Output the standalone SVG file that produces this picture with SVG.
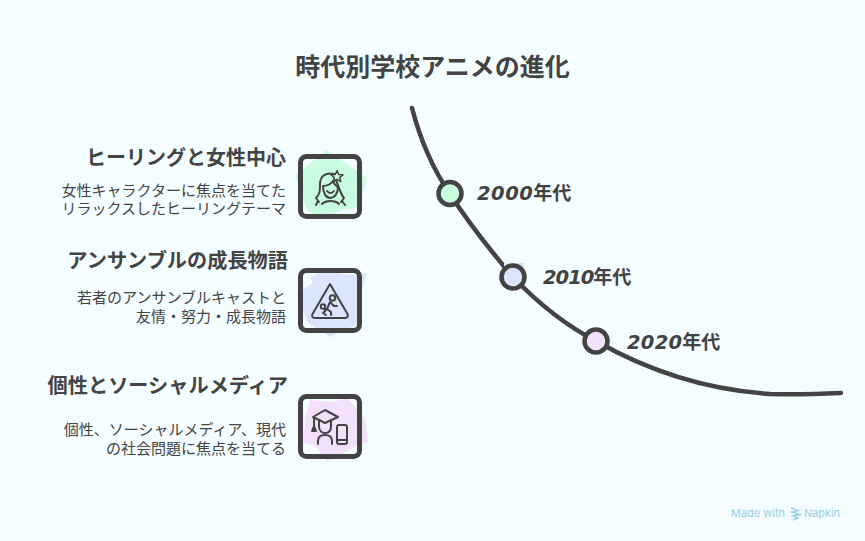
<svg xmlns="http://www.w3.org/2000/svg" width="865" height="541" viewBox="0 0 865 541">
<style>
text{font-family:"Noto Sans CJK JP","Noto Sans",sans-serif;fill:#434343}
.t{font-size:25px;font-weight:700}
.h{font-size:20.200px;font-weight:700;text-anchor:end}
.d{font-size:15px;text-anchor:end}
.y{font-size:19px;font-weight:700}
.yl{font-family:"DejaVu Sans","Noto Sans CJK JP",sans-serif;font-style:italic;font-weight:700;font-size:19.500px}
.box{fill:none;stroke:#434343;stroke-width:5}
.ic{fill:none;stroke:#434343;stroke-width:2;stroke-linecap:round;stroke-linejoin:round}
.line{fill:none;stroke:#434343;stroke-width:4.500;stroke-linecap:round}
.dot{stroke:#434343;stroke-width:4.500}
.wm{font-family:Inter,"Noto Sans",sans-serif;fill:#9bcfe2;font-size:11px;font-weight:400}
</style>
<rect width="865" height="541" fill="#f4fdff"/>
<text class="t" x="432.500" y="76" text-anchor="middle">時代別学校アニメの進化</text>
<g id="connectors">
<path class="line" d="M412 108C423 150 437 175 450 194C470 225 490 250 513 277C535 300 565 325 596 341C650 372 710 390 770 394C795 395 820 394 841 393"/>
</g>
<g id="node-2000">
<rect x="441" y="184" width="18" height="19" fill="#c6fde0"/>
<circle class="dot" cx="450" cy="193.500" r="11.500" fill="#c9fbdf"/>
<text class="y" x="477" y="200"><tspan class="yl" letter-spacing=".5">2000</tspan>年代</text>
</g>
<g id="node-2010">
<rect x="504" y="263" width="20" height="22" fill="#dbe6fd"/>
<circle class="dot" cx="513" cy="277" r="11.500" fill="#dbe6fd"/>
<text class="y" x="543" y="284"><tspan class="yl" letter-spacing="-1">2010</tspan>年代</text>
</g>
<g id="node-2020">
<circle class="dot" cx="596" cy="341" r="11.500" fill="#f3e1fb"/>
<text class="y" x="627" y="349"><tspan class="yl" letter-spacing=".25">2020</tspan>年代</text>
</g>
<g id="item-healing">
<text class="h" x="286" y="165" style="font-size:20px">ヒーリングと女性中心</text>
<text class="d" x="286" y="196">女性キャラクターに焦点を当てた</text>
<text class="d" x="286" y="214">リラックスしたヒーリングテーマ</text>
<polygon points="327,150 367,178 359,208 340,210 323,220 307,210 295,175" fill="#c8fbe0"/>
<rect class="box" x="300.500" y="156.500" width="59" height="60" rx="6"/>
<g class="ic">
<path d="M334 174C326 172 320 176 320 184C320 191 320 194 316 198L319 202M336 180C339 187 340 193 344 198L341 202"/>
<path d="M323 186C327 186 331 184 333 181C334 184 336 186 338 187C338 194 334 198 330.500 198C326 198 323 193 323 186Z"/>
<path d="M327 191C329 193.500 332 193.500 334 191M322 204C326 200 335 200 339 204M318 201L316 205M342 201L345 205"/>
<path d="M337 170.500L338.700 174.500L343 174.800L339.700 177.500L340.800 181.500L337 179.300L333.300 181.500L334.300 177.500L331 174.800L335.300 174.500Z" stroke-width="1.500"/>
</g>
</g>
<g id="item-ensemble">
<text class="h" x="288" y="268">アンサンブルの成長物語</text>
<text class="d" x="286" y="303">若者のアンサンブルキャストと</text>
<text class="d" x="286" y="322">友情・努力・成長物語</text>
<polygon points="310,277 327,270 348,275 367,273 358,303 360,323 330,337 308,323 297,293 313,283" fill="#dbe6fd"/>
<rect class="box" x="300.500" y="270.500" width="59" height="60" rx="6"/>
<g class="ic">
<path d="M330 284L347.500 314C348.500 316 347.500 318 345 318H315C312.500 318 311.500 316 312.500 314Z"/>
<circle cx="332.500" cy="298" r="2.800"/>
<circle cx="323" cy="306.500" r="2.200"/>
<path d="M330 302L327 309L325 310M330 302L334 306L337 306M327 309L331 312L331 315M327 309L323 313L326 315"/>
</g>
</g>
<g id="item-social">
<text class="h" x="288" y="393">個性とソーシャルメディア</text>
<text class="d" x="286" y="435">個性、ソーシャルメディア、現代</text>
<text class="d" x="286" y="454">の社会問題に焦点を当てる</text>
<polygon points="310,400 333,402 347,398 365,418 368,442 353,448 328,462 315,446 303,442 305,418" fill="#f3e1fb"/>
<rect class="box" x="300.500" y="396.500" width="59" height="60" rx="6"/>
<g class="ic">
<path d="M313 417L325 410L338 417L325 423Z"/>
<path d="M319 420V426C319 431 322 433 325 433C329 433 331 430 331 426V420"/>
<path d="M314 418V426M312 431L314 426L316 431Z" fill="#434343"/>
<path d="M318 444V441C318 437 321 435 325 435C329 435 332 437 332 441V444"/>
<rect x="337" y="425" width="10" height="19" rx="2"/>
<path d="M337 440H347"/>
</g>
</g>
<g id="watermark">
<text class="wm" x="731" y="517" textLength="54">Made with</text>
<path d="M791 508L798 510.500L792 512L800 514.500L793 516L798 518L793 520" fill="none" stroke="#9bcfe2" stroke-width="1.500"/>
<text class="wm" x="804" y="517" textLength="36">Napkin</text>
</g>
</svg>
